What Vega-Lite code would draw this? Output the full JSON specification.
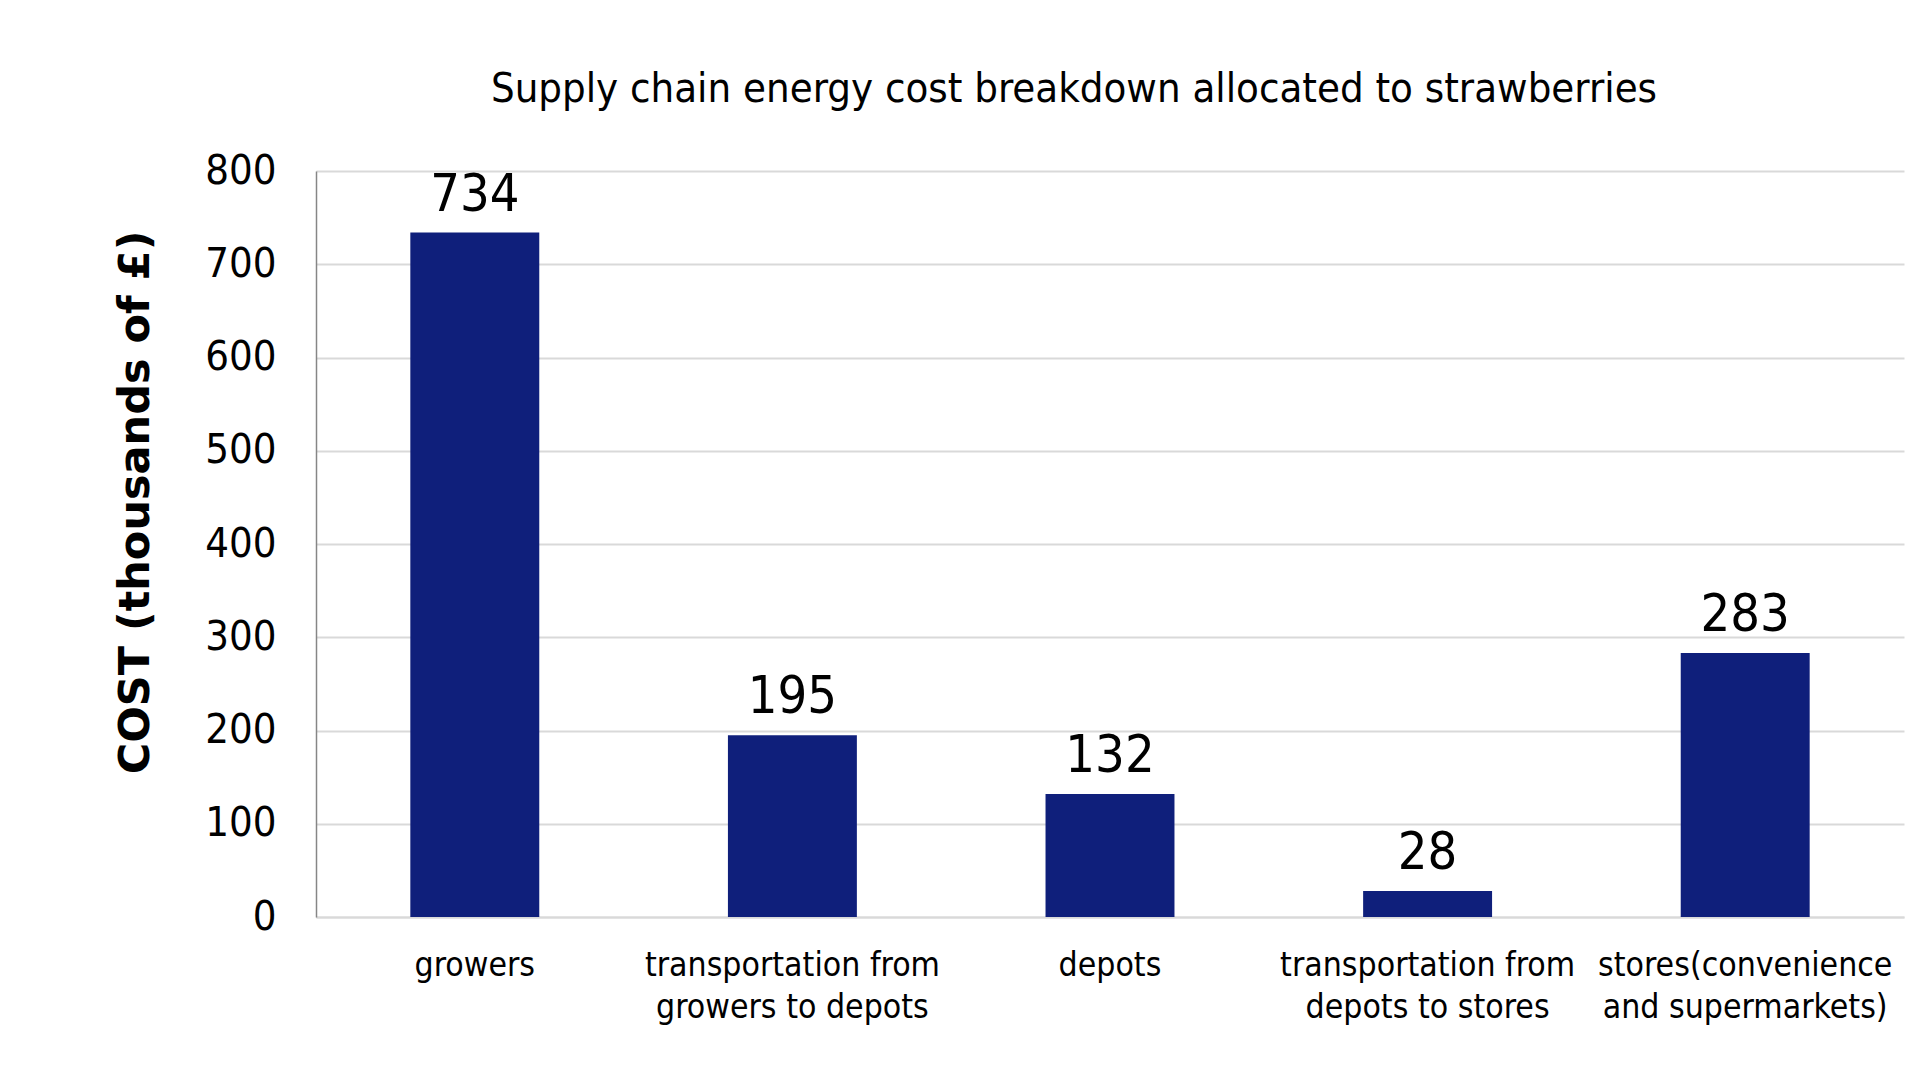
{
  "$schema": "https://vega.github.io/schema/vega-lite/v6.json",
  "autosize": {"type": "none"},
  "width": 1588,
  "height": 746,
  "padding": {"left": 316, "top": 171, "right": 16, "bottom": 168},
  "background": "white",
  "config": {
    "font": "DejaVu Sans Condensed",
    "view": {"stroke": null}
  },
  "title": {
    "text": "Supply chain energy cost breakdown allocated to strawberries",
    "font": "DejaVu Sans Condensed",
    "fontSize": 41.5,
    "fontWeight": "normal",
    "color": "#000000",
    "anchor": "middle",
    "dx": -36,
    "offset": 40
  },
  "data": {
    "values": [
      {"stage": "growers", "cost": 734},
      {"stage": "transportation from growers to depots", "cost": 195},
      {"stage": "depots", "cost": 132},
      {"stage": "transportation from depots to stores", "cost": 28},
      {"stage": "stores(convenience and supermarkets)", "cost": 283}
    ]
  },
  "encoding": {
    "x": {
      "field": "stage",
      "type": "nominal",
      "sort": null,
      "scale": {"paddingInner": 0.594, "paddingOuter": 0.297},
      "axis": {
        "title": null,
        "labelAngle": 0,
        "labelFont": "DejaVu Sans Condensed",
        "labelFontSize": 33.5,
        "labelColor": "#000000",
        "labelPadding": 32,
        "labelBaseline": "top",
        "labelLineHeight": 42,
        "labelLimit": 400,
        "ticks": false,
        "domainColor": "#d9d9d9",
        "domainWidth": 2,
        "labelExpr": "datum.label == 'transportation from growers to depots' ? ['transportation from', 'growers to depots'] : datum.label == 'transportation from depots to stores' ? ['transportation from', 'depots to stores'] : datum.label == 'stores(convenience and supermarkets)' ? ['stores(convenience', 'and supermarkets)'] : datum.label"
      }
    },
    "y": {
      "field": "cost",
      "type": "quantitative",
      "scale": {"domain": [0, 800], "nice": false},
      "axis": {
        "values": [0, 100, 200, 300, 400, 500, 600, 700, 800],
        "title": "COST (thousands of £)",
        "titleFont": "DejaVu Sans",
        "titleFontSize": 43,
        "titleFontWeight": "bold",
        "titleColor": "#000000",
        "titleAngle": -90,
        "titleX": -181,
        "titleY": 331,
        "titleAlign": "center",
        "titleBaseline": "middle",
        "labelFont": "DejaVu Sans Condensed",
        "labelFontSize": 41.5,
        "labelColor": "#000000",
        "labelPadding": 40,
        "ticks": false,
        "domainColor": "#868686",
        "domainWidth": 1.5,
        "gridColor": "#d9d9d9",
        "gridWidth": 2
      }
    }
  },
  "layer": [
    {
      "mark": {"type": "bar", "color": "#0f1f7b"}
    },
    {
      "mark": {
        "type": "text",
        "baseline": "alphabetic",
        "dy": -22,
        "fontSize": 52,
        "font": "DejaVu Sans Condensed",
        "color": "#000000"
      },
      "encoding": {"text": {"field": "cost", "type": "quantitative"}}
    }
  ]
}
